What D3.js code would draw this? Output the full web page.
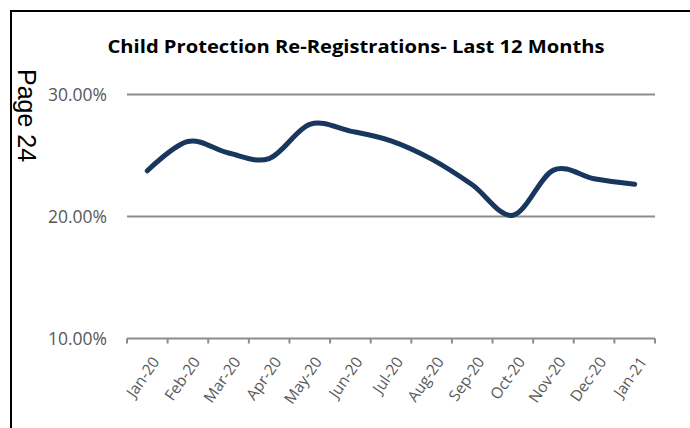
<!DOCTYPE html>
<meta charset="utf-8">
<head>
	<title>Child Protection Re-Registrations</title>
	<script src="https://d3js.org/d3.v7.min.js"></script>
	<style>
		body { margin: 0; background: #fff; }
		text { font-family: "Open Sans", Lato, sans-serif; }
	</style>
</head>
<body>
<script>

	// data
	const months = ['Jan-20', 'Feb-20', 'Mar-20', 'Apr-20', 'May-20', 'Jun-20', 'Jul-20',
		'Aug-20', 'Sep-20', 'Oct-20', 'Nov-20', 'Dec-20', 'Jan-21'];
	const rates = [0.2375, 0.2615, 0.2520, 0.2475, 0.2755, 0.2700, 0.2620,
		0.2470, 0.2260, 0.2010, 0.2380, 0.2310, 0.2265];
	const yTicks = [0.10, 0.20, 0.30];

	const width = 690;
	const height = 428;

	var svg = d3.select('body')
		.append('svg')
		.attr('width', width)
		.attr('height', height);

	// page frame (top + left edge)
	svg.append('line')
		.attr('x1', 10).attr('x2', width)
		.attr('y1', 11).attr('y2', 11)
		.style('stroke', '#000').style('stroke-width', 2);
	svg.append('line')
		.attr('x1', 11).attr('x2', 11)
		.attr('y1', 10).attr('y2', height)
		.style('stroke', '#000').style('stroke-width', 2);

	svg.append('text')
		.attr('transform', 'translate(18,69) rotate(90)')
		.style('font-family', '"Liberation Sans", Arial, sans-serif')
		.style('font-size', '25px')
		.style('fill', '#000')
		.text('Page 24');

	var x = d3.scaleBand()
		.domain(months)
		.range([127, 655]);

	var y = d3.scaleLinear()
		.domain([0.10, 0.30])
		.range([338.5, 94.5]);

	// title
	svg.append('text')
		.attr('x', 356)
		.attr('y', 53)
		.attr('text-anchor', 'middle')
		.attr('textLength', 497)
		.attr('lengthAdjust', 'spacingAndGlyphs')
		.style('font-size', '17px')
		.style('font-weight', 'bold')
		.style('fill', '#000')
		.text('Child Protection Re-Registrations- Last 12 Months');

	// gridlines
	svg.append('g')
		.attr('class', 'grid')
		.selectAll('line')
		.data(yTicks.filter(d => d > 0.10))
		.enter().append('line')
			.attr('x1', 127).attr('x2', 655)
			.attr('y1', d => y(d)).attr('y2', d => y(d))
			.style('stroke', '#8c8c8c')
			.style('stroke-width', 2);

	// y labels
	svg.append('g')
		.selectAll('text')
		.data(yTicks)
		.enter().append('text')
			.attr('x', 107)
			.attr('y', d => y(d))
			.attr('dy', '0.36em')
			.attr('text-anchor', 'end')
			.style('font-size', '17.5px')
			.style('fill', '#595959')
			.text(d3.format('.2%'));

	// x axis, ticks between categories
	var xAxis = svg.append('g')
		.attr('transform', 'translate(0,' + y(0.10) + ')');
	xAxis.append('line')
		.attr('x1', 127).attr('x2', 655)
		.style('stroke', '#8c8c8c').style('stroke-width', 2);
	xAxis.selectAll('.tick')
		.data(months.concat(['end']))
		.enter().append('line')
			.attr('class', 'tick')
			.attr('x1', (d, i) => 127 + i * x.step())
			.attr('x2', (d, i) => 127 + i * x.step())
			.attr('y1', 0).attr('y2', 5)
			.style('stroke', '#8c8c8c').style('stroke-width', 2);
	xAxis.selectAll('.lbl')
		.data(months)
		.enter().append('text')
			.attr('class', 'lbl')
			.attr('transform', d => 'translate(' + (x(d) + x.bandwidth() / 2 + 4) + ',17) rotate(-55)')
			.attr('text-anchor', 'end')
			.attr('dy', '0.7em')
			.style('font-size', '15.5px')
			.style('fill', '#595959')
			.text(d => d);

	// the line
	var line = d3.line()
		.x((d, i) => x(months[i]) + x.bandwidth() / 2)
		.y(d => y(d))
		.curve(d3.curveCardinal.tension(0));

	svg.append('path')
		.datum(rates)
		.attr('d', line)
		.style('fill', 'none')
		.style('stroke', '#17375e')
		.style('stroke-width', 5)
		.style('stroke-linecap', 'round');

</script>
</body>
</html>
